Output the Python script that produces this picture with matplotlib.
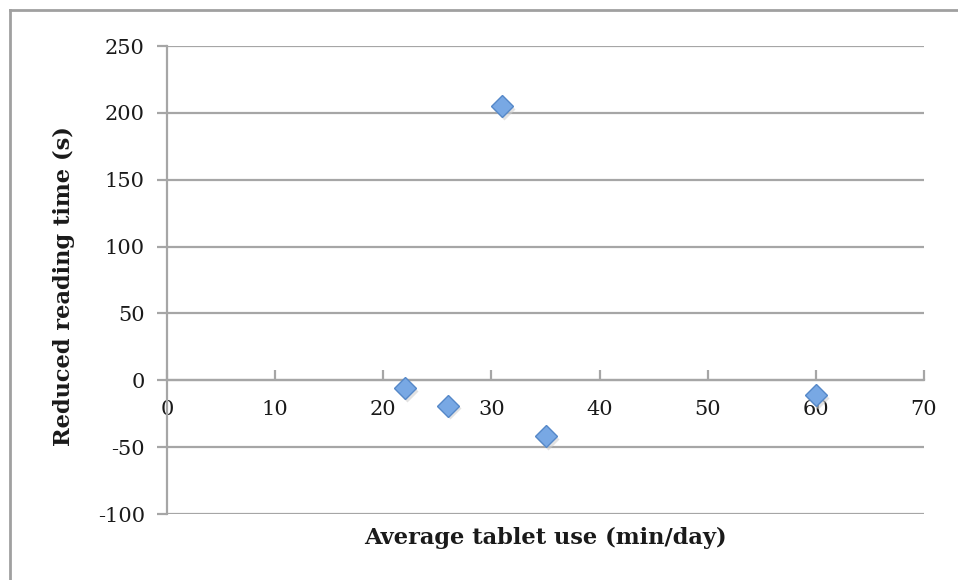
import matplotlib.pyplot as plt
from matplotlib.lines import Line2D

# data
tablet_use = [22, 26, 31, 35, 60]
reduced_time = [-6, -19, 205, -42, -11]
x_ticks = [0, 10, 20, 30, 40, 50, 60, 70]
y_ticks = [-100, -50, 0, 50, 100, 150, 200, 250]

plt.rcParams['font.family'] = ['DejaVu Serif']
plt.rcParams['axes.unicode_minus'] = False

fig = plt.figure(figsize=(9.58, 5.8), dpi=100)
ax = fig.add_axes([167/958, 1 - 514/580, (924 - 167)/958, (514 - 46)/580])

grey = '#a6a6a6'
for y in y_ticks:
    ax.axhline(y, color=grey, lw=1.6, zorder=1)

# shadow then markers
ax.plot([x + 0.2 for x in tablet_use], [y - 2 for y in reduced_time], 'D',
        ms=11.5, color='#cfcfcf', alpha=0.6, mec='none', zorder=2)
ax.plot(tablet_use, reduced_time, 'D', ms=11.5, mfc='#78a8e4', mec='#5588c8',
        mew=1, zorder=3)

ax.set_xlim(0, 70)
ax.set_ylim(-100, 250)
ax.set_xticks(x_ticks)
ax.set_yticks(y_ticks)

for s in ['top', 'right']:
    ax.spines[s].set_visible(False)
ax.spines['left'].set_color(grey)
ax.spines['left'].set_linewidth(1.6)
ax.spines['bottom'].set_position(('data', 0))
ax.spines['bottom'].set_color(grey)
ax.spines['bottom'].set_linewidth(1.6)

ax.tick_params(axis='y', direction='out', length=7, width=1.6, color=grey,
               labelsize=15, pad=9, labelcolor='#1a1a1a')
ax.tick_params(axis='x', direction='in', length=7, width=1.6, color=grey,
               labelsize=15, pad=14, labelcolor='#1a1a1a')

ax.set_xlabel('Average tablet use (min/day)', fontsize=16.2, fontweight='bold',
              labelpad=0, color='#1a1a1a')
ax.xaxis.set_label_coords(0.5, -0.028)
ax.set_ylabel('Reduced reading time (s)', fontsize=16.2, fontweight='bold',
              color='#1a1a1a')
ax.yaxis.set_label_coords(-0.121, 0.487)

# chart border (only left and top visible)
fig.add_artist(Line2D([10/958, 10/958], [0, 1 - 10/580], color='#a0a0a0', lw=2))
fig.add_artist(Line2D([10/958, 1], [1 - 10/580, 1 - 10/580], color='#a0a0a0', lw=2))

fig.savefig('out.png', dpi=100)
